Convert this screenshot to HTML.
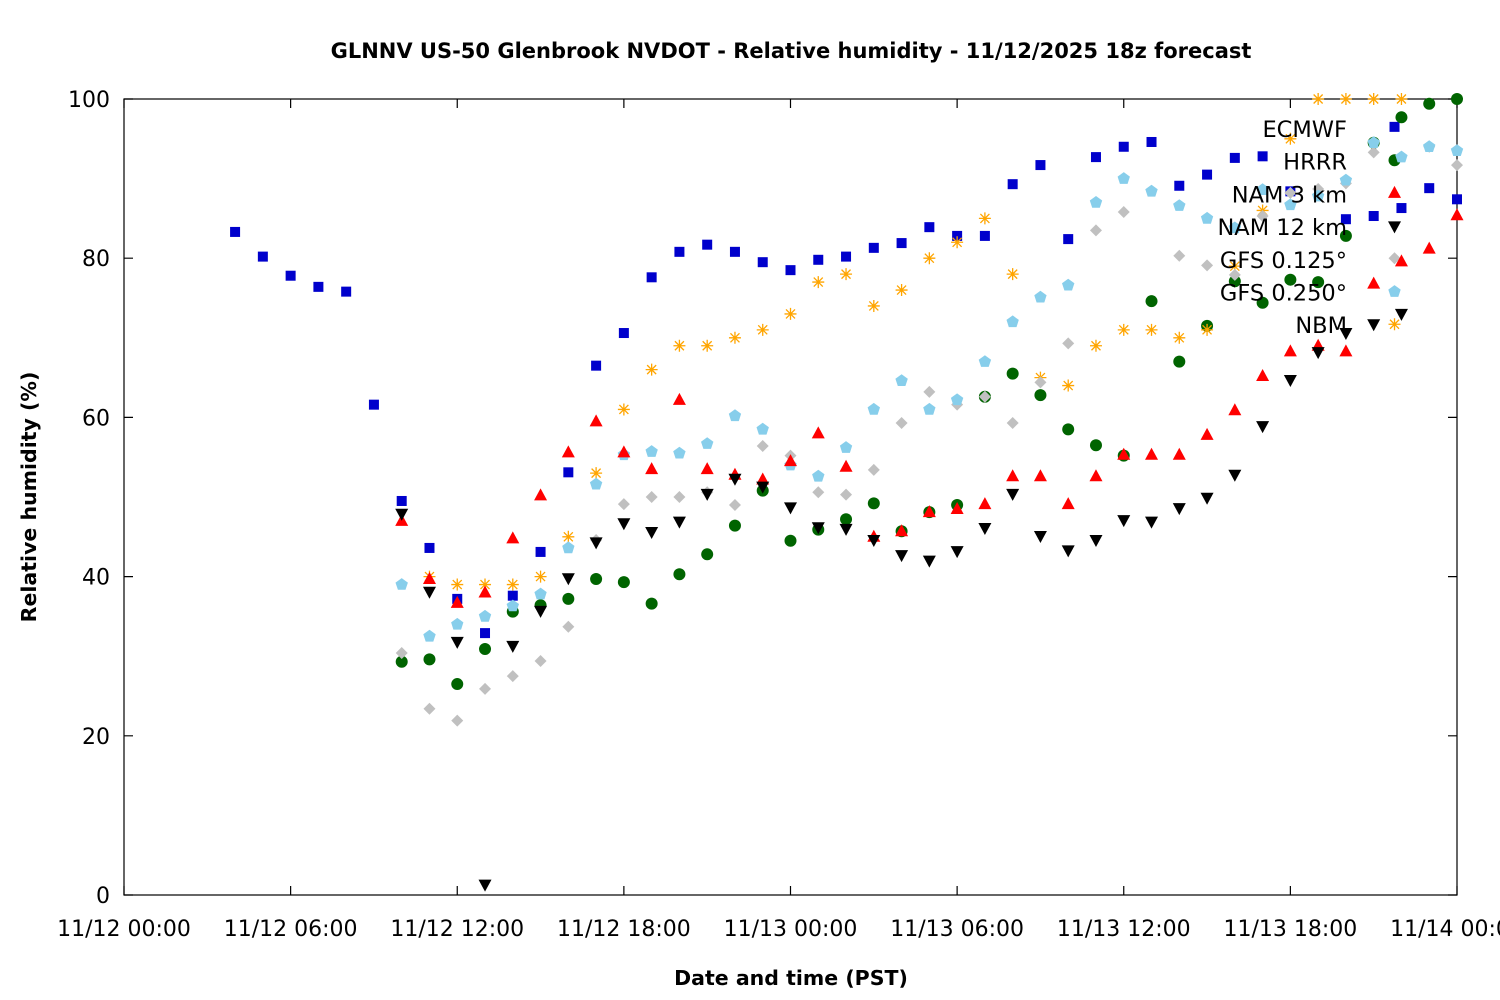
<!DOCTYPE html>
<html><head><meta charset="utf-8"><style>
body{margin:0;background:#fff}
svg{display:block;font-family:"Liberation Sans","DejaVu Sans",sans-serif}
</style></head><body>
<svg id="chart" width="1500" height="1000" viewBox="0 0 1500 1000">
<rect width="1500" height="1000" fill="#fff"/>
<text x="791" y="58" text-anchor="middle" font-size="21" font-weight="bold" font-family="DejaVu Sans, sans-serif">GLNNV US-50 Glenbrook NVDOT - Relative humidity - 11/12/2025 18z forecast</text>
<text transform="translate(36,497) rotate(-90)" text-anchor="middle" font-size="20.5" font-weight="bold" font-family="DejaVu Sans, sans-serif">Relative humidity (%)</text>
<text x="791" y="985" text-anchor="middle" font-size="20.5" font-weight="bold" font-family="DejaVu Sans, sans-serif">Date and time (PST)</text>
<g id="axes"></g>
<g id="marks"></g>
<g id="legend"></g>
</svg>
<script>
const xTickLabels=["11/12 00:00","11/12 06:00","11/12 12:00","11/12 18:00","11/13 00:00","11/13 06:00","11/13 12:00","11/13 18:00","11/14 00:00"];
const xTickHours=[0,6,12,18,24,30,36,42,48];
const yTicks=[0,20,40,60,80,100];
const seriesNames=["ECMWF","HRRR","NAM 3 km","NAM 12 km","GFS 0.125°","GFS 0.250°","NBM"];
const blueHours=[4,5,6,7,8,9,10,11,12,13,14,15,16,17,18,19,20,21,22,23,24,25,26,27,28,29,30,31,32,33,34,35,36,37,38,39,40,41,42,44,45,45.75,46,47,48];
const blueValues=[83.3,80.2,77.8,76.4,75.8,61.6,49.5,43.6,37.2,32.9,37.6,43.1,53.1,66.5,70.6,77.6,80.8,81.7,80.8,79.5,78.5,79.8,80.2,81.3,81.9,83.9,82.8,82.8,89.3,91.7,82.4,92.7,94,94.6,89.1,90.5,92.6,92.8,88.4,84.9,85.3,96.5,86.3,88.8,87.4];
const orangeHours=[11,12,13,14,15,16,17,18,19,20,21,22,23,24,25,26,27,28,29,30,31,32,33,34,35,36,37,38,39,40,41,42,43,44,45,45.75,46];
const orangeValues=[40,39,39,39,40,45,53,61,66,69,69,70,71,73,77,78,74,76,80,82,85,78,65,64,69,71,71,70,71,79,86,95,100,100,100,71.7,100];
const lightHours=[10,11,12,13,14,15,16,17,18,19,20,21,22,23,24,25,26,27,28,29,30,31,32,33,34,35,36,37,38,39,40,41,42,43,44,45,45.75,46,47,48];
const lightValues=[39,32.5,34,35,36.3,37.8,43.6,51.6,55.3,55.7,55.5,56.7,60.2,58.5,54,52.6,56.2,61,64.6,61,62.2,67,72,75.1,76.6,87,90,88.4,86.6,85,83.8,88.6,86.7,87.8,89.8,94.5,75.8,92.7,94,93.5];
const grayHours=[10,11,12,13,14,15,16,17,18,19,20,21,22,23,24,25,26,27,28,29,30,31,32,33,34,35,36,38,39,40,41,42,43,44,45,45.75,47,48];
const grayValues=[30.4,23.4,21.9,25.9,27.5,29.4,33.7,44.6,49.1,50,50,50.6,49,56.4,55.2,50.6,50.3,53.4,59.3,63.2,61.6,62.6,59.3,64.4,69.3,83.5,85.8,80.3,79.1,77.9,85.3,88.2,88.7,89.4,93.3,80,94,91.7];
const redHours=[10,11,12,13,14,15,16,17,18,19,20,21,22,23,24,25,26,27,28,29,30,31,32,33,34,35,36,37,38,39,40,41,42,43,44,45,45.75,46,47,48];
const redValues=[47,39.7,36.7,38,44.8,50.2,55.6,59.5,55.6,53.5,62.2,53.5,52.8,52.2,54.5,58,53.8,45,45.7,48.1,48.5,49.1,52.6,52.6,49.1,52.6,55.3,55.3,55.3,57.8,60.9,65.2,68.3,69,68.3,76.8,88.2,79.6,81.2,85.4];
const greenHours=[10,11,12,13,14,15,16,17,18,19,20,21,22,23,24,25,26,27,28,29,30,31,32,33,34,35,36,37,38,39,40,41,42,43,44,45,45.75,46,47,48];
const greenValues=[29.3,29.6,26.5,30.9,35.6,36.4,37.2,39.7,39.3,36.6,40.3,42.8,46.4,50.8,44.5,45.9,47.2,49.2,45.7,48.1,49,62.6,65.5,62.8,58.5,56.5,55.2,74.6,67,71.5,77.1,74.4,77.3,77,82.8,94.5,92.3,97.7,99.4,100];
const blackHours=[10,11,12,13,14,15,16,17,18,19,20,21,22,23,24,25,26,27,28,29,30,31,32,33,34,35,36,37,38,39,40,41,42,43,44,45,45.75,46];
const blackValues=[47.9,38.1,31.8,1.3,31.3,35.7,39.8,44.3,46.7,45.6,46.9,50.4,52.3,51.3,48.7,46.2,46,44.6,42.7,42,43.2,46.1,50.4,45.1,43.3,44.6,47.1,46.9,48.6,49.9,52.8,58.9,64.7,68.2,70.6,71.7,84,73];

const X0=124,X1=1457,Y0=895,Y1=99;
const xs=h=>X0+(X1-X0)*h/48;
const ys=v=>Y0-(Y0-Y1)*v/100;
const NS="http://www.w3.org/2000/svg";
function mk(tag,attrs,parent){const e=document.createElementNS(NS,tag);for(const k in attrs)e.setAttribute(k,attrs[k]);parent.appendChild(e);return e;}
const axes=document.getElementById('axes'),marks=document.getElementById('marks'),legend=document.getElementById('legend');
const frame=mk('rect',{x:X0,y:Y1,width:X1-X0,height:Y0-Y1,fill:'none',stroke:'#000','stroke-width':1.2},axes);


xTickHours.forEach((h,i)=>{
  const x=xs(h);
  const t=mk('path',{d:`M${x},${Y0}v-9M${x},${Y1}v9`,stroke:'#000','stroke-width':1.2},axes);
  
  
  const l=mk('text',{x:x,y:Y0+41,'text-anchor':'middle','font-size':22,'font-family':'DejaVu Sans, sans-serif'},axes);
  l.textContent=xTickLabels[i];
  
  
});
yTicks.forEach(v=>{
  const y=ys(v);
  const t=mk('path',{d:`M${X0},${y}h9M${X1},${y}h-9`,stroke:'#000','stroke-width':1.2},axes);
  
  
  const l=mk('text',{x:X0-14,y:y+8,'text-anchor':'end','font-size':22,'font-family':'DejaVu Sans, sans-serif'},axes);
  l.textContent=v;
  
  
});
function marker(type,x,y,g){
  if(type==='square')return mk('rect',{x:x-5,y:y-5,width:10,height:10,fill:'#0000cc'},g);
  if(type==='star')return mk('path',{d:`M${x-6},${y}h12M${x},${y-6}v12M${x-4.5},${y-4.5}l9,9M${x+4.5},${y-4.5}l-9,9`,stroke:'#ffa500','stroke-width':1.3},g);
  if(type==='pent'){let p=[];for(let k=0;k<5;k++){const a=-Math.PI/2+k*2*Math.PI/5;p.push((x+6.5*Math.cos(a)).toFixed(1)+','+(y+6.5*Math.sin(a)).toFixed(1));}return mk('polygon',{points:p.join(' '),fill:'#87ceeb'},g);}
  if(type==='diamond')return mk('polygon',{points:`${x},${y-6} ${x+6},${y} ${x},${y+6} ${x-6},${y}`,fill:'#c0c0c0'},g);
  if(type==='up')return mk('polygon',{points:`${x},${y-7} ${x+6.5},${y+5} ${x-6.5},${y+5}`,fill:'#ff0000'},g);
  if(type==='circle')return mk('circle',{cx:x,cy:y,r:6,fill:'#006400'},g);
  if(type==='down')return mk('polygon',{points:`${x},${y+7} ${x+6.5},${y-5} ${x-6.5},${y-5}`,fill:'#000'},g);
}
const series=[
 ['ecmwf-series','square',blueHours,blueValues],
 ['gfs-0250-series','circle',greenHours,greenValues],
 ['hrrr-series','star',orangeHours,orangeValues],
 ['nam-12km-series','diamond',grayHours,grayValues],
 ['nam-3km-series','pent',lightHours,lightValues],
 ['gfs-0125-series','up',redHours,redValues],
 ['nbm-series','down',blackHours,blackValues]
];
series.forEach(s=>{
  const g=mk('g',{},marks);
  
  
  s[2].forEach((h,i)=>{
    const m=marker(s[1],xs(h),ys(s[3][i]),g);
    
    
  });
});
seriesNames.forEach((n,i)=>{
  const l=mk('text',{x:1347,y:137+i*32.7,'text-anchor':'end','font-size':22.5,'font-family':'DejaVu Sans, sans-serif'},legend);
  l.textContent=n;
  
  
});
</script>
</body></html>
